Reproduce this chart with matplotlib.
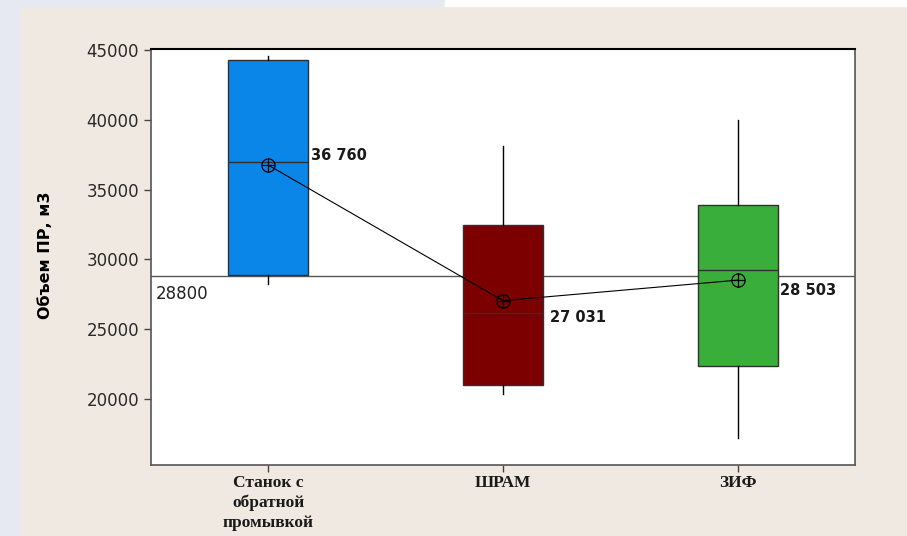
import matplotlib.pyplot as plt
import matplotlib.patches as mpatches

# box summary values
categories = ["Станок с\nобратной\nпромывкой", "ШРАМ", "ЗИФ"]
whis_lo = [28200, 20300, 17150]
q1 = [28900, 21000, 22350]
medians = [37000, 26150, 29250]
q3 = [44300, 32450, 33900]
whis_hi = [44600, 38150, 40000]
means = [36760, 27031, 28503]
mean_labels = ["36 760", "27 031", "28 503"]
ref_value = 28800
box_colors = ["#0a86e8", "#7d0000", "#3aae3a"]

fig = plt.figure(figsize=(9.07, 5.36), dpi=100)
fig.patch.set_facecolor("#efe9e2")

# light strips at the left and top edge of the screenshot
fig.patches.append(mpatches.Rectangle((0, 0), 20 / 907, 1, transform=fig.transFigure,
                                      color="#e6e9f1", zorder=0))
fig.patches.append(mpatches.Rectangle((0, 1 - 6 / 536), 445 / 907, 6 / 536,
                                      transform=fig.transFigure, color="#e6e9f1", zorder=0))
fig.patches.append(mpatches.Rectangle((445 / 907, 1 - 6 / 536), 1, 6 / 536,
                                      transform=fig.transFigure, color="white", zorder=0))

ax = fig.add_axes([151 / 907, 71 / 536, 704 / 907, 416 / 536])
ax.set_facecolor("white")

positions = [1, 2, 3]
stats = []
for i in range(3):
    stats.append({"whislo": whis_lo[i], "q1": q1[i], "med": medians[i], "q3": q3[i],
                  "whishi": whis_hi[i], "fliers": []})

bp = ax.bxp(stats, positions=positions, widths=0.34, patch_artist=True,
            showcaps=False, showfliers=False,
            boxprops=dict(edgecolor="#303030", linewidth=1),
            medianprops=dict(color="#303030", linewidth=1),
            whiskerprops=dict(color="black", linewidth=1))
for patch, c in zip(bp["boxes"], box_colors):
    patch.set_facecolor(c)

# reference line
ax.axhline(ref_value, color="#555555", linewidth=1, zorder=1)
ax.text(0.52, ref_value - 650, str(ref_value), fontsize=12, color="#222222",
        ha="left", va="top")

# means connected by a line, circle-with-cross markers
ax.plot(positions, means, color="black", linewidth=0.8, zorder=3)
ax.plot(positions, means, linestyle="none", marker="o", markersize=9.5,
        markerfacecolor="none", markeredgecolor="black", markeredgewidth=0.9, zorder=4)
ax.plot(positions, means, linestyle="none", marker="+", markersize=9.5,
        markeredgecolor="black", markeredgewidth=0.9, zorder=4)

label_offsets = [(0.18, 700), (0.20, -1200), (0.18, -750)]
for x, m, lab, (dx, dy) in zip(positions, means, mean_labels, label_offsets):
    ax.text(x + dx, m + dy, lab, fontsize=10.5, fontweight="bold", color="#1a1a1a",
            ha="left", va="center")

ax.set_xlim(0.5, 3.5)
ax.set_ylim(15230, 45100)
ax.set_yticks([20000, 25000, 30000, 35000, 40000, 45000])
ax.set_yticklabels(["20000", "25000", "30000", "35000", "40000", "45000"],
                   fontsize=12, color="#2a2a2a")
ax.set_xticks(positions)
ax.set_xticklabels(categories, fontfamily="Liberation Serif", fontweight="bold",
                   fontsize=12.5, color="#1a1a1a", linespacing=1.3)
ax.tick_params(axis="both", direction="out", length=5, width=1, color="#444444")
ax.tick_params(axis="x", pad=2)

for side in ["left", "bottom", "right"]:
    ax.spines[side].set_color("#555555")
    ax.spines[side].set_linewidth(1.2)
ax.spines["top"].set_color("black")
ax.spines["top"].set_linewidth(1.5)

fig.text(45 / 907, 1 - 255 / 536, "Объем ПР, м3", rotation=90, fontsize=11.5,
         fontweight="bold", ha="center", va="center", color="black")

fig.savefig("out.png", dpi=100, facecolor=fig.get_facecolor())
